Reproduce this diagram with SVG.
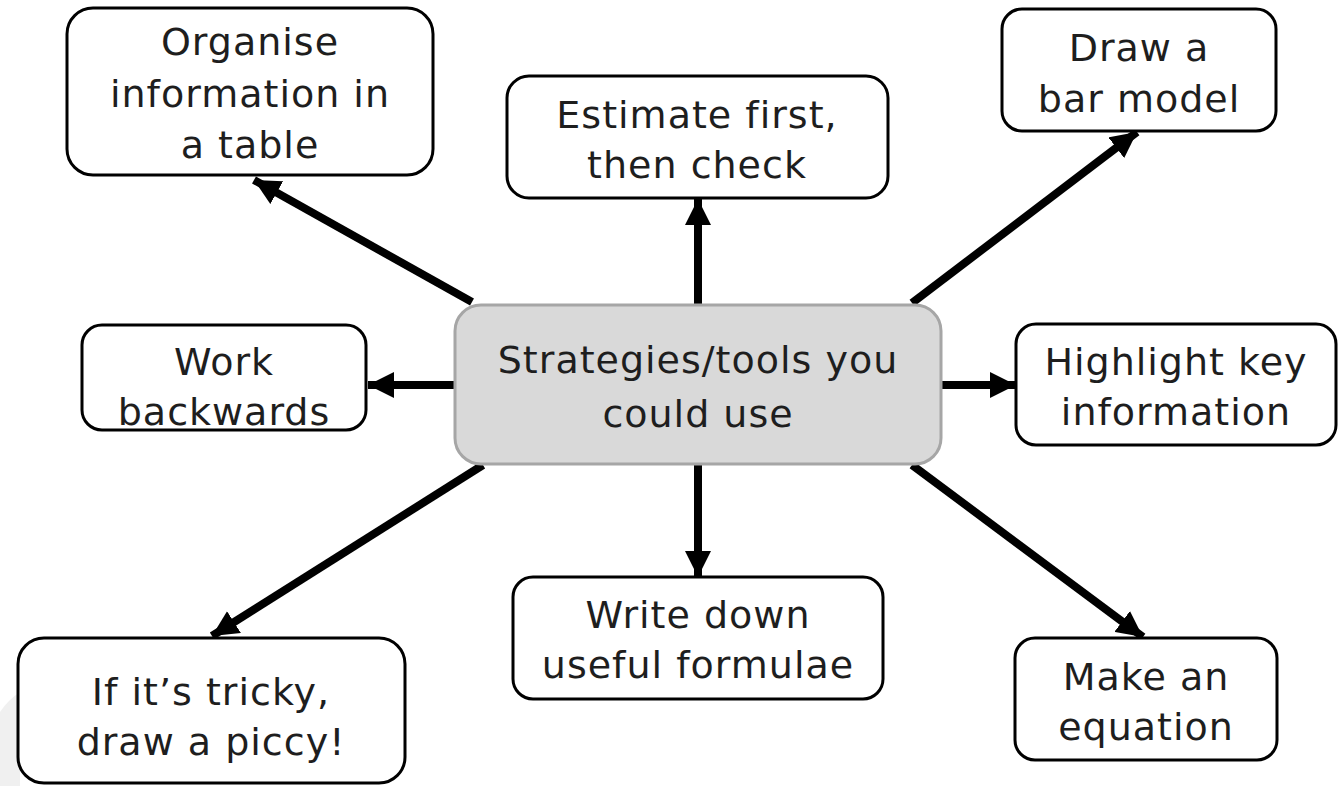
<svg xmlns="http://www.w3.org/2000/svg" width="1338" height="786" viewBox="0 0 1338 786">
<style>
.box{fill:#fff;stroke:#000;stroke-width:3}
.hub{fill:#d9d9d9;stroke:#a6a6a6;stroke-width:3}
.t{font-family:"DejaVu Sans","Liberation Sans",sans-serif;font-size:38px;letter-spacing:1px;fill:#1e1e1e;text-anchor:middle}
.c{stroke:#000;stroke-width:8;fill:none;marker-end:url(#ah)}
</style>
<defs>
<marker id="ah" markerUnits="userSpaceOnUse" markerWidth="26" markerHeight="26" refX="24" refY="12" orient="auto" viewBox="0 0 24 24">
<path d="M0,0 L24,12 L0,24 Z" fill="#000"/>
</marker>
</defs>
<path d="M0,712 Q8,700 20,692 L20,786 L0,786 Z" fill="#f0f0f0"/>
<g id="connectors">
<line class="c" x1="472" y1="302" x2="254" y2="180"/>
<line class="c" x1="698" y1="305" x2="698" y2="199"/>
<line class="c" x1="912" y1="303" x2="1137" y2="132"/>
<line class="c" x1="455" y1="385" x2="368" y2="385"/>
<line class="c" x1="941" y1="385" x2="1016" y2="385"/>
<line class="c" x1="698" y1="464" x2="698" y2="577"/>
<line class="c" x1="483" y1="465" x2="212" y2="636"/>
<line class="c" x1="912" y1="465" x2="1143" y2="637"/>
</g>
<g id="hub">
<rect class="hub" x="455" y="305" width="486" height="159" rx="26"/>
<text class="t" x="698" y="373">Strategies/tools you</text>
<text class="t" x="698" y="427">could use</text>
</g>
<g id="organise">
<rect class="box" x="67" y="8" width="366" height="167" rx="26"/>
<text class="t" x="250" y="55">Organise</text>
<text class="t" x="250" y="107">information in</text>
<text class="t" x="250" y="158">a table</text>
</g>
<g id="estimate">
<rect class="box" x="507" y="76" width="381" height="122" rx="22"/>
<text class="t" x="697" y="128">Estimate first,</text>
<text class="t" x="697" y="178">then check</text>
</g>
<g id="barmodel">
<rect class="box" x="1002" y="9" width="274" height="122" rx="20"/>
<text class="t" x="1139" y="61">Draw a</text>
<text class="t" x="1139" y="112">bar model</text>
</g>
<g id="backwards">
<rect class="box" x="82" y="325" width="284" height="105" rx="20"/>
<text class="t" x="224" y="375">Work</text>
<text class="t" x="224" y="425">backwards</text>
</g>
<g id="highlight">
<rect class="box" x="1016" y="324" width="320" height="121" rx="20"/>
<text class="t" x="1176" y="375">Highlight key</text>
<text class="t" x="1176" y="425">information</text>
</g>
<g id="formulae">
<rect class="box" x="513" y="577" width="370" height="122" rx="20"/>
<text class="t" x="698" y="628">Write down</text>
<text class="t" x="698" y="678">useful formulae</text>
</g>
<g id="piccy">
<rect class="box" x="18" y="638" width="387" height="145" rx="26"/>
<text class="t" x="211" y="705">If it’s tricky,</text>
<text class="t" x="211" y="755">draw a piccy!</text>
</g>
<g id="equation">
<rect class="box" x="1015" y="638" width="262" height="122" rx="20"/>
<text class="t" x="1146" y="690">Make an</text>
<text class="t" x="1146" y="740">equation</text>
</g>
</svg>
